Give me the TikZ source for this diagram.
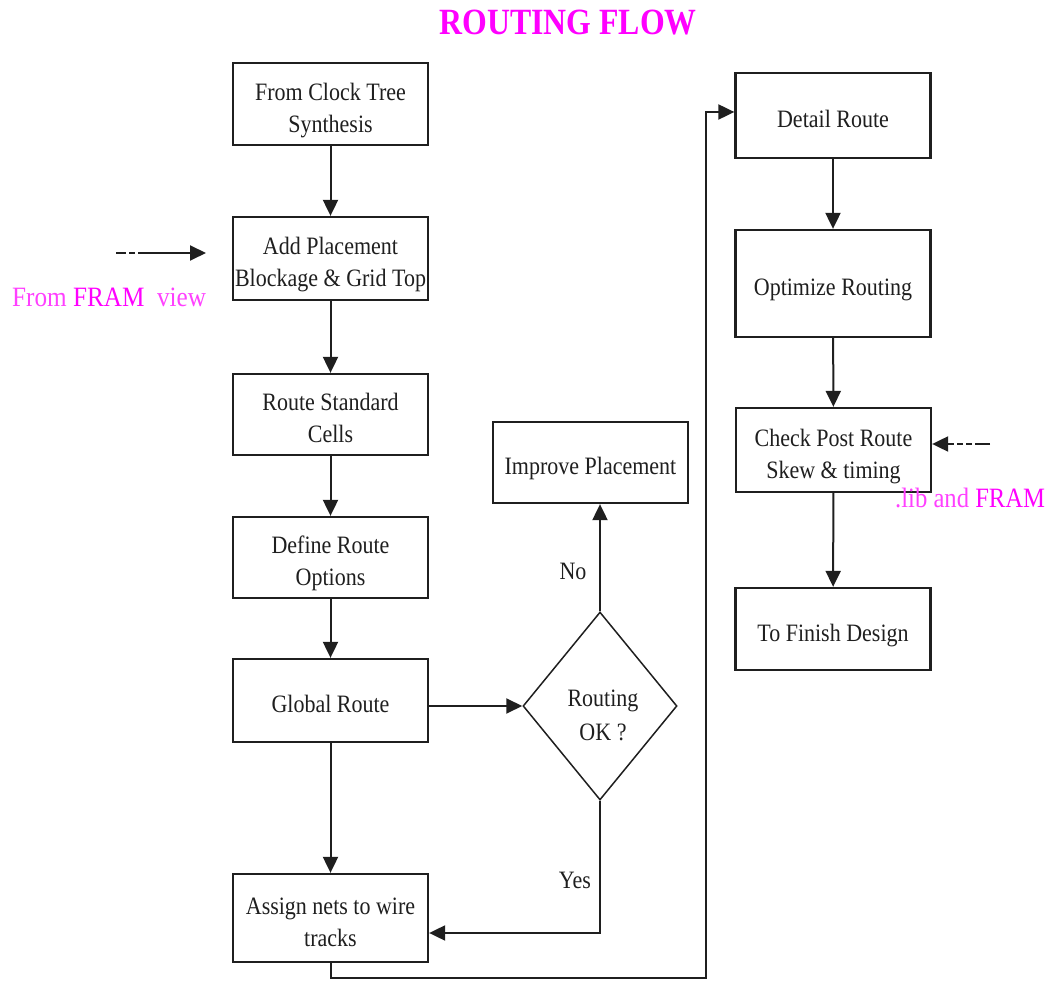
\documentclass[tikz,border=0pt]{standalone}
\usepackage{fontspec}
\usepackage{graphicx}
\setmainfont{Liberation Serif}
\usetikzlibrary{shapes.geometric,arrows.meta}
\definecolor{ink}{gray}{0.12}
\definecolor{pink}{rgb}{1,0,1}
% narrow the Times-like face horizontally and sit it a little low in its box
\newcommand\narrowed[2][0.88]{\raisebox{-6pt}[\height][\depth]{\scalebox{#1}[1]{\begin{tabular}{@{}c@{}}#2\end{tabular}}}}
\begin{document}
\begin{tikzpicture}[x=1pt,y=-1pt,
  boxtext/.style={font=\rmfamily\fontsize{25}{32}\selectfont, text=ink},
  stepbox/.style={boxtext, draw=ink, line width=2.3pt, fill=white, align=center,
    minimum width=195pt, inner sep=1pt},
  decision/.style={diamond, draw=ink, line width=1.5pt, minimum width=154pt,
    minimum height=188pt, inner sep=0pt},
  flow/.style={draw=ink, line width=2pt, -{Triangle[length=16pt,width=15pt]}},
  sidenote/.style={font=\rmfamily\fontsize{28}{32}\selectfont, text=pink},
  feed/.style={draw=ink, line width=2pt, -{Triangle[length=16pt,width=15pt]}}
]
\useasboundingbox (0,0) rectangle (1053,981);

% title
\node[font=\rmfamily\bfseries\fontsize{37}{40}\selectfont, text=pink] (title) at (568,21) {\narrowed[0.86]{ROUTING FLOW}};

% left column
\node[stepbox, minimum height=82pt] (clk) at (330.5,104) {\narrowed{From Clock Tree\\Synthesis}};
\node[stepbox, minimum height=83pt] (add) at (330.5,258.5) {\narrowed{Add Placement\\Blockage \& Grid Top}};
\node[stepbox, minimum height=81pt] (rsc) at (330.5,414.5) {\narrowed{Route Standard\\Cells}};
\node[stepbox, minimum height=81pt] (dro) at (330.5,557.5) {\narrowed{Define Route\\Options}};
\node[stepbox, minimum height=83pt] (glo) at (330.5,700.5) {\narrowed{Global Route}};
\node[stepbox, minimum height=88pt] (asg) at (330.5,918) {\narrowed{Assign nets to wire\\tracks}};

% decision and retry branch
\node[stepbox, minimum height=81pt] (imp) at (590.5,462.5) {\narrowed{Improve Placement}};
\node[decision] (dia) at (600,706) {};
\node[boxtext, font=\rmfamily\fontsize{25}{34}\selectfont] (diatext) at (603,711) {\narrowed{Routing\\OK ?}};
\node[boxtext] (nolbl) at (573,567) {\narrowed{No}};
\node[boxtext] (yeslbl) at (575,876) {\narrowed{Yes}};

% right column
\node[stepbox, minimum height=85pt] (det) at (833,115.5) {\narrowed{Detail Route}};
\node[stepbox, minimum height=107pt] (opt) at (833,283.5) {\narrowed{Optimize Routing}};
\node[stepbox, minimum height=84pt] (chk) at (833.5,450) {\narrowed{Check Post Route\\Skew \& timing}};
\node[stepbox, minimum height=82pt] (fin) at (833,629) {\narrowed{To Finish Design}};

% side inputs
\node[sidenote, anchor=west, inner sep=0pt] (framview) at (12,294) {\narrowed[0.9]{{\color{pink!75}From} FRAM\ \ {\color{pink!75}view}}};
\node[sidenote, anchor=west, inner sep=0pt] (libfram) at (895,495) {\narrowed{{\color{pink!75}.lib and} FRAM}};

% main flow
\draw[flow] (clk) -- (add);
\draw[flow] (add) -- (rsc);
\draw[flow] (rsc) -- (dro);
\draw[flow] (dro) -- (glo);
\draw[flow] (glo) -- (asg);
\draw[flow] (glo.east |- dia.west) -- (dia.west);
\draw[flow] (dia.north) -- (imp.south -| dia.north);

\coordinate (yesturn) at (600,933);
\draw[flow] (dia.south) -- (yesturn) -- (asg.east |- yesturn);

\coordinate (b1) at (330.5,978);
\coordinate (b2) at (706,978);
\coordinate (b3) at (706,112);
\draw[flow] (asg.south) -- (b1) -- (b2) -- (b3) -- (det.west |- b3);

\draw[flow] (det) -- (opt);
\draw[flow] (opt) -- (chk);
\draw[flow] (chk) -- (fin);

% dashed feeds
\coordinate (lfs) at (116,253);
\coordinate (lfe) at (206,253);
\draw[feed, dash pattern=on 10pt off 3pt on 6pt off 3pt on 300pt] (lfs) -- (lfe);
\coordinate (rfs) at (990,444);
\draw[feed, dash pattern=on 15pt off 3pt on 6pt off 3pt on 6pt off 3pt on 6pt off 3pt on 300pt] (rfs) -- (chk.east |- rfs);
\end{tikzpicture}
\end{document}
